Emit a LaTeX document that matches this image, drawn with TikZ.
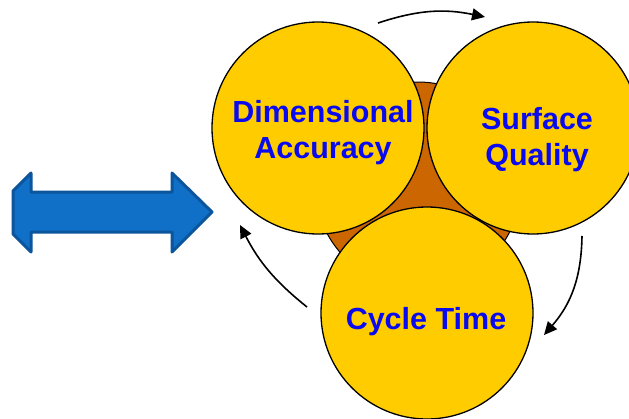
\documentclass[tikz,border=0pt]{standalone}
\usepackage{fontspec}
\setmainfont{Liberation Sans}
\usepackage{xcolor}
\usetikzlibrary{arrows.meta}
\definecolor{gold}{HTML}{FFCC00}
\definecolor{rust}{HTML}{CC6600}
\definecolor{textblue}{HTML}{0A0AEE}
\definecolor{arrowblue}{HTML}{1070C8}
\definecolor{arrowedge}{HTML}{0B559C}
\tikzstyle{disc}=[circle,draw=black,line width=1.3pt,fill=gold,minimum size=212pt,inner sep=0pt]
\tikzstyle{lbl}=[text=textblue,font=\fontsize{30.5}{36}\selectfont\bfseries,align=center]
\tikzstyle{cyc}=[line width=1.6pt,-{Triangle[length=13pt,width=12pt]}]
\begin{document}
\begin{tikzpicture}[x=1pt,y=-1pt]
	\useasboundingbox (0,0) rectangle (629,418);
	% hub behind the three discs
	\fill[rust,draw=black,line width=1pt] (418,185) circle (103);
	\node[disc] (dim) at (318,128) {};
	\node[disc] (surf) at (533,128) {};
	\node[disc] (cyct) at (427,313) {};
	\node[lbl] (dimtxt)  at (323,133) {Dimensional\\Accuracy};
	\node[lbl] (surftxt) at (537,140) {Surface\\Quality};
	\node[lbl] (cyctxt)  at (426,322) {Cycle Time};
	% circulation arrows
	\coordinate (a1) at (378,23);  \coordinate (b1) at (485,17);
	\coordinate (a2) at (582,236); \coordinate (b2) at (544,335);
	\coordinate (a3) at (307,307); \coordinate (b3) at (240,225);
	\draw[cyc] (a1) to[bend left=15] (b1);
	\draw[cyc] (a2) to[bend left=20] (b2);
	\draw[cyc] (a3) to[bend left=12] (b3);
	% double-headed block arrow
	\draw[arrowedge,fill=arrowblue,line width=3pt,line join=round]
		(13,191) -- (31,173) -- (31,192) -- (172,192) -- (172,173) -- (212,212)
		-- (172,252) -- (172,232) -- (31,232) -- (31,252) -- (13,234) -- cycle;
\end{tikzpicture}
\end{document}
